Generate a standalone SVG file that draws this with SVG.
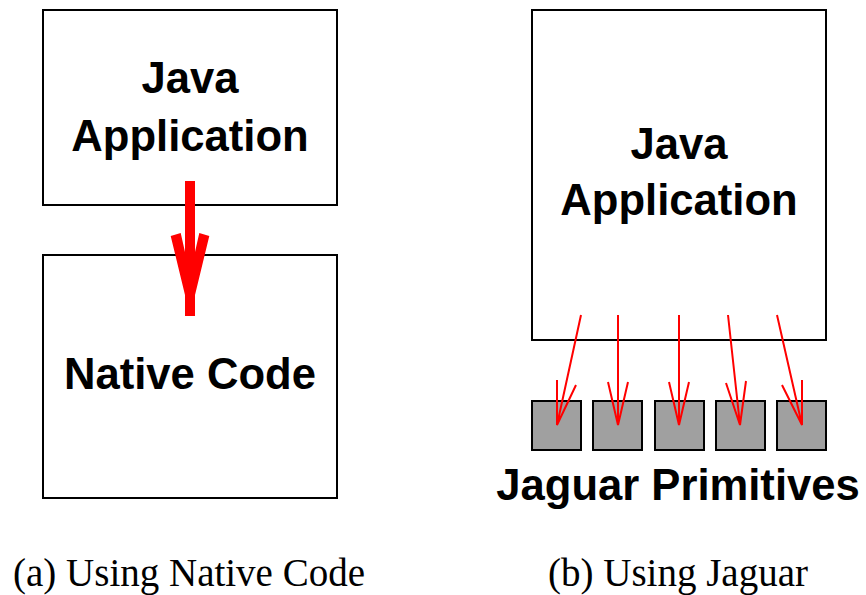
<svg xmlns="http://www.w3.org/2000/svg" width="866" height="595" viewBox="0 0 866 595">
  <style>
    .box { fill: #ffffff; stroke: #000000; stroke-width: 2; }
    .prim { fill: #a0a0a0; stroke: #000000; stroke-width: 2; }
    .label { font-family: "Liberation Sans", Arial, sans-serif; font-weight: bold; font-size: 43.6px; fill: #000000; text-anchor: middle; }
    .caption { font-family: "Liberation Serif", "Times New Roman", serif; font-size: 39px; fill: #000000; text-anchor: middle; }
    .call { fill: none; stroke: #ff0000; stroke-width: 2; }
  </style>
  <rect width="866" height="595" fill="#ffffff"/>

  <!-- (a) native code -->
  <g id="java-app-a">
    <rect class="box" x="43" y="10" width="294" height="195"/>
    <text class="label" x="190" y="93">Java</text>
    <text class="label" x="190" y="151">Application</text>
  </g>
  <g id="native-code">
    <rect class="box" x="43" y="255" width="294" height="243"/>
    <text class="label" x="190" y="389">Native Code</text>
  </g>

  <!-- (b) jaguar -->
  <g id="java-app-b">
    <rect class="box" x="532" y="10" width="294" height="330"/>
    <text class="label" x="679" y="159">Java</text>
    <text class="label" x="679" y="215">Application</text>
  </g>
  <g id="primitives">
    <rect class="prim" x="532" y="401" width="49" height="49"/>
    <rect class="prim" x="593" y="401" width="49" height="49"/>
    <rect class="prim" x="655" y="401" width="49" height="49"/>
    <rect class="prim" x="716" y="401" width="49" height="49"/>
    <rect class="prim" x="777" y="401" width="49" height="49"/>
    <text class="label" x="678" y="500">Jaguar Primitives</text>
  </g>

  <g id="connectors">
    <!-- thick call into native code -->
    <polygon fill="#ff0000" points="170.7,236 180.7,233 185,252 185,181 195,181 195,252 199.3,233 209.3,236 195,295 195,316 185,316 185,295"/>
    <!-- calls into primitives -->
    <path class="call" d="M581,315 L557,425 M557,380 L557,425 L576,385"/>
    <path class="call" d="M618,315 L618,425 M608,382 L618,425 L628,382"/>
    <path class="call" d="M679,315 L679,425 M669,382 L679,425 L689,382"/>
    <path class="call" d="M728,315 L740,425 M726,383 L740,425 L746,381"/>
    <path class="call" d="M777,315 L802,425 M782,385 L802,425 L802,380"/>
  </g>

  <text class="caption" x="189" y="586">(a) Using Native Code</text>
  <text class="caption" x="678" y="586">(b) Using Jaguar</text>
</svg>
